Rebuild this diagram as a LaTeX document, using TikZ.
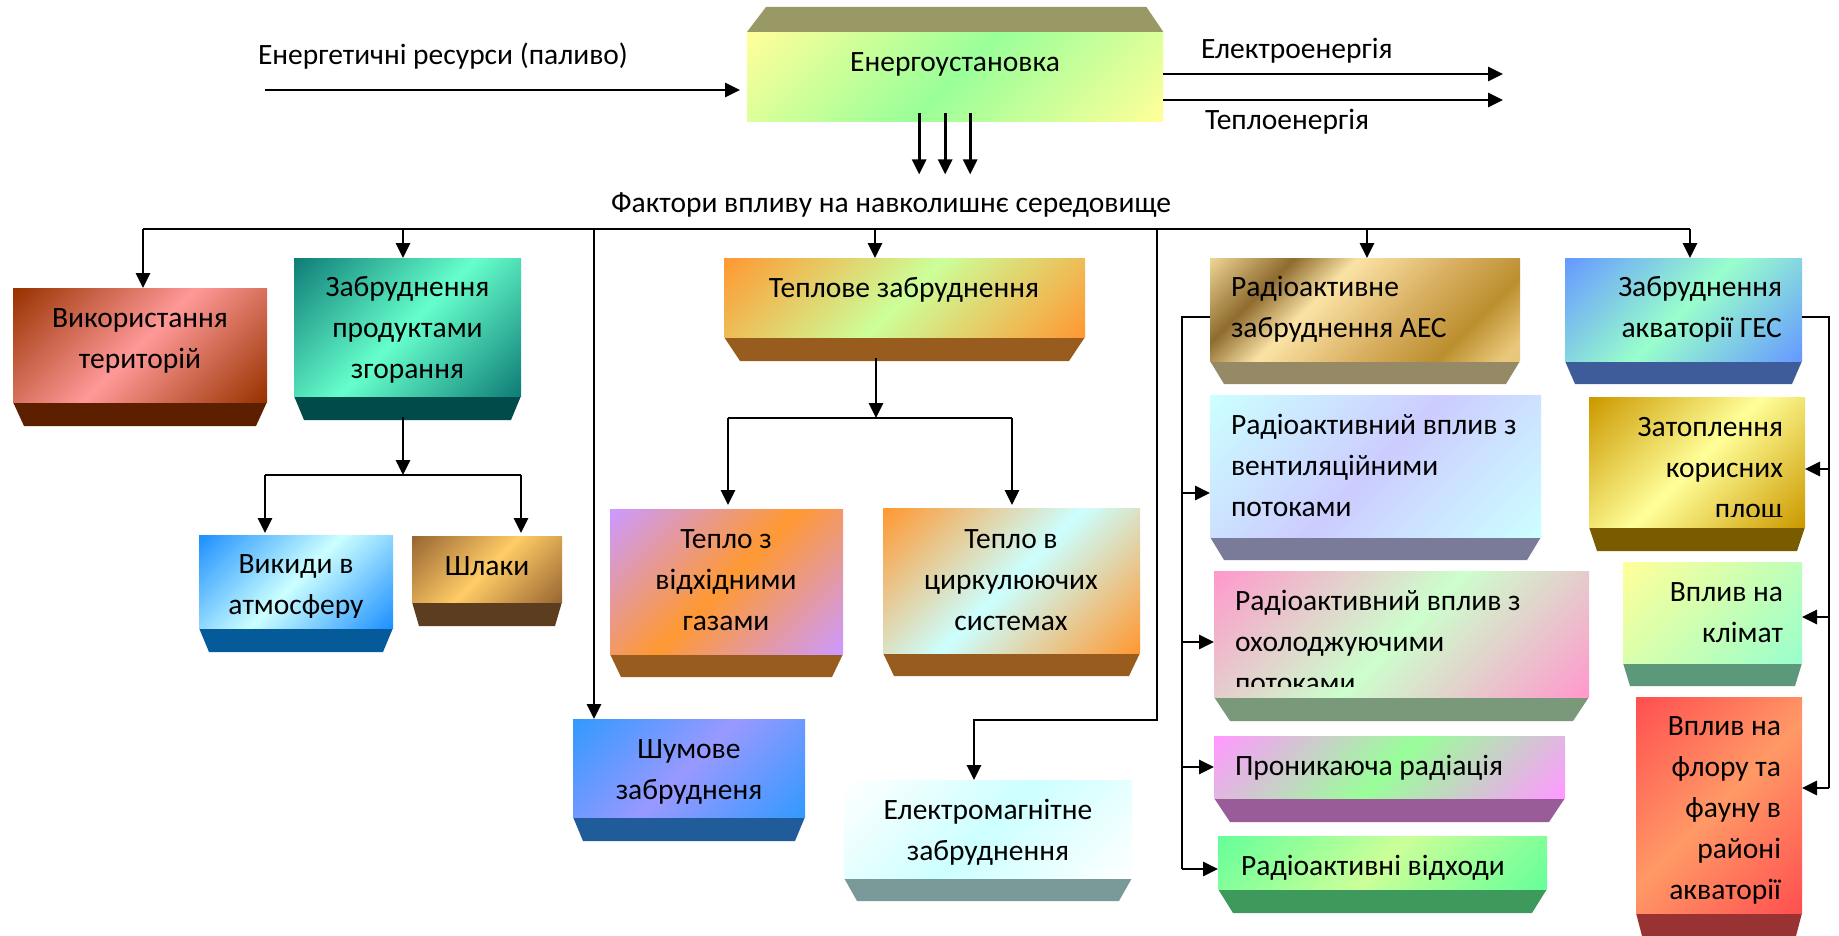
\documentclass[tikz,border=0pt]{standalone}
\usepackage{fontspec}
\setmainfont{Carlito}
\usetikzlibrary{arrows.meta}
\definecolor{cYel}{HTML}{FFFF99}
\definecolor{cGrn}{HTML}{99FF99}
\definecolor{cOlv}{HTML}{999966}
\definecolor{c1a}{HTML}{993300}\definecolor{c1b}{HTML}{FF9999}\definecolor{c1c}{HTML}{5C1F00}
\definecolor{c2a}{HTML}{0F7E78}\definecolor{c2b}{HTML}{66FFCC}\definecolor{c2c}{HTML}{024B4B}
\definecolor{c3a}{HTML}{1E90FF}\definecolor{c3b}{HTML}{CCFFFF}\definecolor{c3c}{HTML}{055B99}
\definecolor{c4a}{HTML}{996633}\definecolor{c4b}{HTML}{FFCC66}\definecolor{c4c}{HTML}{5C3D1F}
\definecolor{c5a}{HTML}{FF9933}\definecolor{c5b}{HTML}{CCFF99}\definecolor{c5c}{HTML}{995C1F}
\definecolor{c6a}{HTML}{CC99FF}
\definecolor{c8a}{HTML}{3399FF}\definecolor{c8b}{HTML}{9999FF}\definecolor{c8c}{HTML}{1F5C99}
\definecolor{c9c}{HTML}{7A9999}
\definecolor{c10c}{HTML}{968A66}
\definecolor{c11b}{HTML}{CCCCFF}\definecolor{c11c}{HTML}{7A7A99}
\definecolor{c12a}{HTML}{FF99CC}\definecolor{c12b}{HTML}{CCFFCC}\definecolor{c12c}{HTML}{7A997A}
\definecolor{c13a}{HTML}{FF99FF}\definecolor{c13c}{HTML}{995C99}
\definecolor{c14a}{HTML}{66FF99}\definecolor{c14c}{HTML}{3D995C}
\definecolor{c15a}{HTML}{6699FF}\definecolor{c15b}{HTML}{99FFCC}\definecolor{c15c}{HTML}{3D5C99}
\definecolor{c16a}{HTML}{CC9900}\definecolor{c16c}{HTML}{7A5C00}
\definecolor{c17c}{HTML}{5C997A}
\definecolor{c18a}{HTML}{FF5050}\definecolor{c18b}{HTML}{FF9966}\definecolor{c18c}{HTML}{993333}
\definecolor{g1}{HTML}{EBD292}\definecolor{g2}{HTML}{8F6B2E}\definecolor{g3}{HTML}{FBE3A6}
\definecolor{g4}{HTML}{D9B062}\definecolor{g5}{HTML}{BB8E2E}\definecolor{g6}{HTML}{E8C77A}
\definecolor{shA}{HTML}{000000}\definecolor{shB}{HTML}{FFFFFF}
\pgfdeclarehorizontalshading{goldsh}{100bp}{color(0bp)=(g1); color(15bp)=(g1); color(29bp)=(g2); color(40bp)=(g3); color(57bp)=(g4); color(71bp)=(g5); color(82bp)=(g6); color(100bp)=(g6)}
\pgfdeclareverticalshading[shA,shB]{tri}{100bp}{color(0bp)=(shA); color(15bp)=(shA); color(50bp)=(shB); color(85bp)=(shA); color(100bp)=(shA)}
\pgfdeclareverticalshading[shA,shB]{duo}{100bp}{color(0bp)=(shB); color(15bp)=(shB); color(85bp)=(shA); color(100bp)=(shA)}
\newcommand\pbox[9]{%
  \fill[#9] (#2,#5) -- (#4,#5) -- ({#4-#7},#6) -- ({#2+#7},#6) -- cycle;
  \node[#8, minimum width={(#4-#2)*1pt}, minimum height={(#5-#3)*1pt}, anchor=north west, inner sep=0pt, outer sep=0pt] (#1) at (#2,#3) {};
  \coordinate (#1-b) at ({(#2+#4)/2},#6);
}
\newcommand\mlc[1]{\begin{tabular}[t]{@{}c@{}}#1\end{tabular}}
\newcommand\mll[1]{\begin{tabular}[t]{@{}l@{}}#1\end{tabular}}
\newcommand\mlr[1]{\begin{tabular}[t]{@{}r@{}}#1\end{tabular}}
\tikzset{
  sh/.style 2 args={/utils/exec={\colorlet{shA}{#1}\colorlet{shB}{#2}},shading=tri,shading angle=45},
  shduo/.style 2 args={/utils/exec={\colorlet{shA}{#1}\colorlet{shB}{#2}},shading=duo,shading angle=45},
  txt/.style={inner sep=0pt,outer sep=0pt,font=\fontsize{29.5}{41}\selectfont},
  ln/.style={line width=2.8pt},
  arr/.style={line width=2.8pt,-{Triangle[length=15pt,width=14pt]}}
}
\begin{document}
\begin{tikzpicture}[x=1pt,y=-1pt]
\useasboundingbox (0,0) rectangle (1839,936);
\fill[white] (0,0) rectangle (1839,936);
% top box
\node[sh={cYel}{cGrn}, minimum width=416pt, minimum height=89pt, anchor=north west, inner sep=0pt] (top) at (747,32) {};
\fill[cOlv] (top.north west) -- (top.north east) -- ([xshift=-17pt,yshift=25pt]top.north east) -- ([xshift=19pt,yshift=25pt]top.north west) -- cycle;
\node[txt,anchor=base] (ttop) at (955,72) {Енергоустановка};
\node[txt,anchor=base west] (tin) at (258,65) {Енергетичні ресурси (паливо)};
\node[txt,anchor=base west] (tel) at (1201,59) {Електроенергія};
\node[txt,anchor=base west] (the) at (1205,130) {Теплоенергія};
\node[txt,anchor=base] (tfac) at (891,213) {Фактори впливу на навколишнє середовище};
% boxes
\pbox{b1}{13}{288}{267}{402}{426}{11}{sh={c1a}{c1b}}{c1c}
\pbox{b2}{294}{258}{521}{396}{420}{10}{sh={c2a}{c2b}}{c2c}
\pbox{b3}{199}{535}{393}{628}{652}{10}{sh={c3a}{c3b}}{c3c}
\pbox{b4}{412}{536}{562}{602}{626}{7}{sh={c4a}{c4b}}{c4c}
\pbox{b5}{724}{258}{1085}{337}{361}{16}{sh={c5a}{c5b}}{c5c}
\pbox{b6}{610}{509}{843}{654}{677}{11}{sh={c6a}{c5a}}{c5c}
\pbox{b7}{883}{508}{1140}{653}{676}{11}{sh={c5a}{c3b}}{c5c}
\pbox{b8}{573}{719}{805}{817}{841}{10}{sh={c8a}{c8b}}{c8c}
\pbox{b9}{844}{780}{1132}{878}{901}{13}{sh={white}{c3b}}{c9c}
\pbox{b10}{1210}{258}{1520}{361}{384}{14}{shading=goldsh,shading angle=-45}{c10c}
\pbox{b11}{1210}{395}{1541}{537}{560}{14}{sh={c3b}{c11b}}{c11c}
\pbox{b12}{1214}{571}{1589}{697}{721}{16}{sh={c12a}{c12b}}{c12c}
\pbox{b13}{1214}{736}{1565}{798}{822}{16}{sh={c13a}{cGrn}}{c13c}
\pbox{b14}{1218}{836}{1547}{889}{913}{15}{sh={c14a}{c5b}}{c14c}
\pbox{b15}{1565}{258}{1802}{361}{384}{10}{sh={c15a}{c15b}}{c15c}
\pbox{b16}{1589}{397}{1805}{527}{551}{8}{sh={c16a}{cYel}}{c16c}
\pbox{b17}{1623}{562}{1802}{663}{686}{7}{shduo={cYel}{c15b}}{c17c}
\pbox{b18}{1636}{697}{1802}{913}{936}{6}{sh={c18a}{c18b}}{c18c}
% texts
\node[txt,anchor=base] (t1) at (140,327) {\mlc{Використання\\територій}};
\node[txt,anchor=base] (t2) at (407.5,296) {\mlc{Забруднення\\продуктами\\згорання}};
\begin{scope}
\clip (199,535) rectangle (393,617);
\node[txt,anchor=base] (t3) at (296,573) {\mlc{Викиди в\\атмосферу}};
\end{scope}
\node[txt,anchor=base] (t4) at (487,575) {Шлаки};
\node[txt,anchor=base] (t5) at (904,297) {Теплове забруднення};
\node[txt,anchor=base] (t6) at (726,548) {\mlc{Тепло з\\відхідними\\газами}};
\node[txt,anchor=base] (t7) at (1011,548) {\mlc{Тепло в\\циркулюючих\\системах}};
\node[txt,anchor=base] (t8) at (689,758) {\mlc{Шумове\\забрудненя}};
\node[txt,anchor=base] (t9) at (988,819) {\mlc{Електромагнітне\\забруднення}};
\node[txt,anchor=base west] (t10) at (1231,296) {\mll{Радіоактивне\\забруднення АЕС}};
\node[txt,anchor=base west] (t11) at (1231,434) {\mll{Радіоактивний вплив з\\вентиляційними\\потоками}};
\begin{scope}
\clip (1214,571) rectangle (1589,686);
\node[txt,anchor=base west] (t12) at (1235,610) {\mll{Радіоактивний вплив з\\охолоджуючими\\потоками}};
\end{scope}
\node[txt,anchor=base west] (t13) at (1235,775) {Проникаюча радіація};
\node[txt,anchor=base west] (t14) at (1241,875) {Радіоактивні відходи};
\node[txt,anchor=base east] (t15) at (1782,296) {\mlr{Забруднення\\акваторії ГЕС}};
\begin{scope}
\clip (1589,397) rectangle (1805,516);
\node[txt,anchor=base east] (t16) at (1783,436) {\mlr{Затоплення\\корисних\\площ}};
\end{scope}
\node[txt,anchor=base east] (t17) at (1783,601) {\mlr{Вплив на\\клімат}};
\node[txt,anchor=base east] (t18) at (1781,735) {\mlr{Вплив на\\флору та\\фауну в\\районі\\акваторії}};
% connectors at top
\coordinate (inS) at (265,90);
\draw[arr,shorten >=7pt] (inS) -- (inS -| top.west);
\coordinate (eE) at (1503,74);
\coordinate (hE) at (1503,100);
\draw[arr] (eE -| top.east) -- (eE);
\draw[arr] (hE -| top.east) -- (hE);
\foreach \dx in {-36,-10,15}
  \draw[arr] ([xshift=\dx pt,yshift=8pt]top.south) -- ++(0,61);
% bus
\coordinate (bus) at (0,229);
\coordinate (a1) at ([xshift=3pt]b1.north);
\coordinate (a2) at ([xshift=-4.5pt]b2.north);
\coordinate (a5) at ([xshift=-29.5pt]b5.north);
\coordinate (a8) at ([xshift=-95pt]b8.north);
\coordinate (a9) at ([xshift=-14pt]b9.north);
\coordinate (a10) at ([xshift=2pt]b10.north);
\coordinate (a15) at ([xshift=6.5pt]b15.north);
\coordinate (elx) at (1157,229);
\draw[ln] (a1 |- bus) -- (a15 |- bus);
\draw[arr] (a1 |- bus) -- (a1);
\draw[arr] (a2 |- bus) -- (a2);
\draw[arr] (a5 |- bus) -- (a5);
\draw[arr] (a8 |- bus) -- (a8);
\draw[arr] (a10 |- bus) -- (a10);
\draw[arr] (a15 |- bus) -- (a15);
\draw[arr] (elx) |- ([yshift=60pt]a9) -- (a9);
% combustion products
\coordinate (j2) at (403,475);
\coordinate (a3) at ([xshift=-31pt,yshift=2pt]b3.north);
\coordinate (a4) at ([xshift=34pt,yshift=3pt]b4.north);
\draw[arr] ([yshift=3pt]j2 |- b2-b) -- (j2);
\draw[ln] (a3 |- j2) -- (a4 |- j2);
\draw[arr] (a3 |- j2) -- (a3);
\draw[arr] (a4 |- j2) -- (a4);
% thermal
\coordinate (j5) at (876,418);
\coordinate (a6) at ([xshift=1.5pt,yshift=4pt]b6.north);
\coordinate (a7) at ([xshift=0.5pt,yshift=3pt]b7.north);
\draw[arr] ([yshift=3pt]j5 |- b5-b) -- (j5);
\draw[ln] (a6 |- j5) -- (a7 |- j5);
\draw[arr] (a6 |- j5) -- (a6);
\draw[arr] (a7 |- j5) -- (a7);
% AES bracket
\coordinate (lx) at (1182,0);
\coordinate (r11) at ([yshift=-27pt]b11.west);
\coordinate (r12) at ([yshift=-8pt]b12.west);
\coordinate (r13) at (b13.west);
\coordinate (r14) at ([yshift=-6.5pt]b14.west);
\draw[ln] ([yshift=-7.5pt]b10.west) -| (lx |- r14);
\draw[arr] (lx |- r11) -- (r11);
\draw[arr] (lx |- r12) -- (r12);
\draw[arr] (lx |- r13) -- (r13);
\draw[arr] (lx |- r14) -- (r14);
% GES bracket
\coordinate (rx) at (1829,0);
\coordinate (r16) at ([yshift=-7pt]b16.east);
\coordinate (r17) at ([yshift=-4.5pt]b17.east);
\coordinate (r18) at ([yshift=17pt]b18.east);
\draw[ln] ([yshift=-7.5pt]b15.east) -| (rx |- r18);
\draw[arr] (rx |- r16) -- (r16);
\draw[arr] (rx |- r17) -- (r17);
\draw[arr] (rx |- r18) -- (r18);
\end{tikzpicture}
\end{document}
